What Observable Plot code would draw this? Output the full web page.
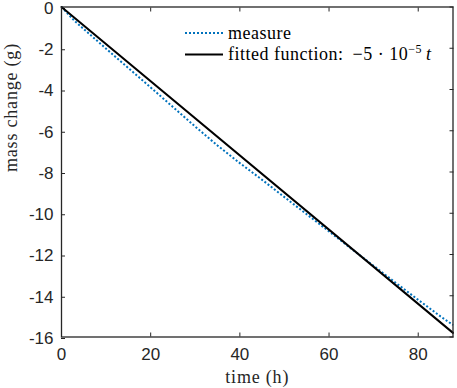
<!DOCTYPE html>
<html><head><meta charset="utf-8">
<script src="https://cdn.jsdelivr.net/npm/d3@7"></script>
<script src="https://cdn.jsdelivr.net/npm/@observablehq/plot@0.6"></script>
<style>
body{margin:0;background:#fff}
#chart{position:relative;width:457px;height:388px}
svg{font-family:"Liberation Sans",Arial,sans-serif}
</style></head><body><div id="chart"></div>
<script>
const measureT = [0, 3, 10, 15, 20, 25, 30, 35, 40, 45, 50, 55, 60, 65, 70, 75, 80, 85, 87.8];
const measureMass = [0, -0.69, -2.02, -2.96, -3.9, -4.85, -5.8, -6.72, -7.57, -8.38, -9.22, -10.05, -10.88, -11.72, -12.55, -13.38, -14.2, -15.0, -15.42];
const fittedT = [0, 87.8];
const fittedMass = [0, -15.8];
const xTicks = [0, 20, 40, 60, 80];
const yTicks = [0, -2, -4, -6, -8, -10, -12, -14, -16];
const legendLabels = ["measure", "fitted function: "];

const measure = measureT.map((t, i) => ({t, m: measureMass[i]}));
const fitted = fittedT.map((t, i) => ({t, m: fittedMass[i]}));
const axisColor = "#262626";
const serif = "'Liberation Serif','Times New Roman',serif";

const plot = Plot.plot({
  width: 457, height: 388,
  marginLeft: 61, marginRight: 4.5, marginTop: 6.5, marginBottom: 51.5,
  style: {fontSize: "17px", color: axisColor, overflow: "visible"},
  x: {domain: [0, 87.8]},
  y: {domain: [-16, 0]},
  marks: [
    Plot.axisX({anchor: "bottom", ticks: xTicks, tickSize: -4, tickPadding: 15, tickFormat: d => String(d), label: null, stroke: axisColor, fill: axisColor}),
    Plot.axisX({anchor: "top", ticks: xTicks, tickSize: -4, tickFormat: () => "", label: null, stroke: axisColor}),
    Plot.axisY({anchor: "left", ticks: yTicks, tickSize: -4, tickPadding: 12, dy: 1.5, tickFormat: d => String(d), label: null, stroke: axisColor, fill: axisColor}),
    Plot.axisY({anchor: "right", ticks: yTicks, tickSize: -4, tickFormat: () => "", label: null, stroke: axisColor}),
    Plot.line(measure, {x: "t", y: "m", stroke: "#0072BD", strokeWidth: 2, strokeDasharray: "2,2", strokeLinecap: "butt"}),
    Plot.line(fitted, {x: "t", y: "m", stroke: "#000", strokeWidth: 2}),
    Plot.frame({stroke: axisColor, strokeWidth: 1.3}),
    Plot.text(["time (h)"], {frameAnchor: "bottom", dy: 46, fontFamily: serif, fontSize: 18, fill: axisColor, lineAnchor: "bottom"}),
    Plot.text(["mass change (g)"], {frameAnchor: "left", dx: -50, rotate: -90, fontFamily: serif, fontSize: 18, fill: axisColor})
  ]
});
document.getElementById("chart").appendChild(plot);

// legend
const svg = d3.select(plot);
svg.selectAll("g[aria-label='text'] text").attr("letter-spacing", "0.8px");
const lg = svg.append("g").attr("font-family", serif).attr("font-size", 18).attr("fill", "#000").attr("text-anchor", "start");
lg.append("line").attr("x1", 185).attr("x2", 223).attr("y1", 33).attr("y2", 33)
  .attr("stroke", "#0072BD").attr("stroke-width", 2).attr("stroke-dasharray", "2,2").attr("stroke-linecap", "butt");
lg.append("text").attr("x", 228).attr("y", 38.5).attr("letter-spacing", "0.5px").text(legendLabels[0]);
lg.append("line").attr("x1", 185).attr("x2", 223).attr("y1", 54.5).attr("y2", 54.5)
  .attr("stroke", "#000").attr("stroke-width", 2);
const t2 = lg.append("text").attr("x", 228).attr("y", 60).attr("letter-spacing", "0.5px");
t2.append("tspan").text(legendLabels[1]);
t2.append("tspan").attr("dx", 4).text("−5 · 10");
t2.append("tspan").attr("dy", -7).attr("font-size", 12).text("−5");
t2.append("tspan").attr("dy", 7).attr("dx", 4).attr("font-style", "italic").text("t");
</script></body></html>
